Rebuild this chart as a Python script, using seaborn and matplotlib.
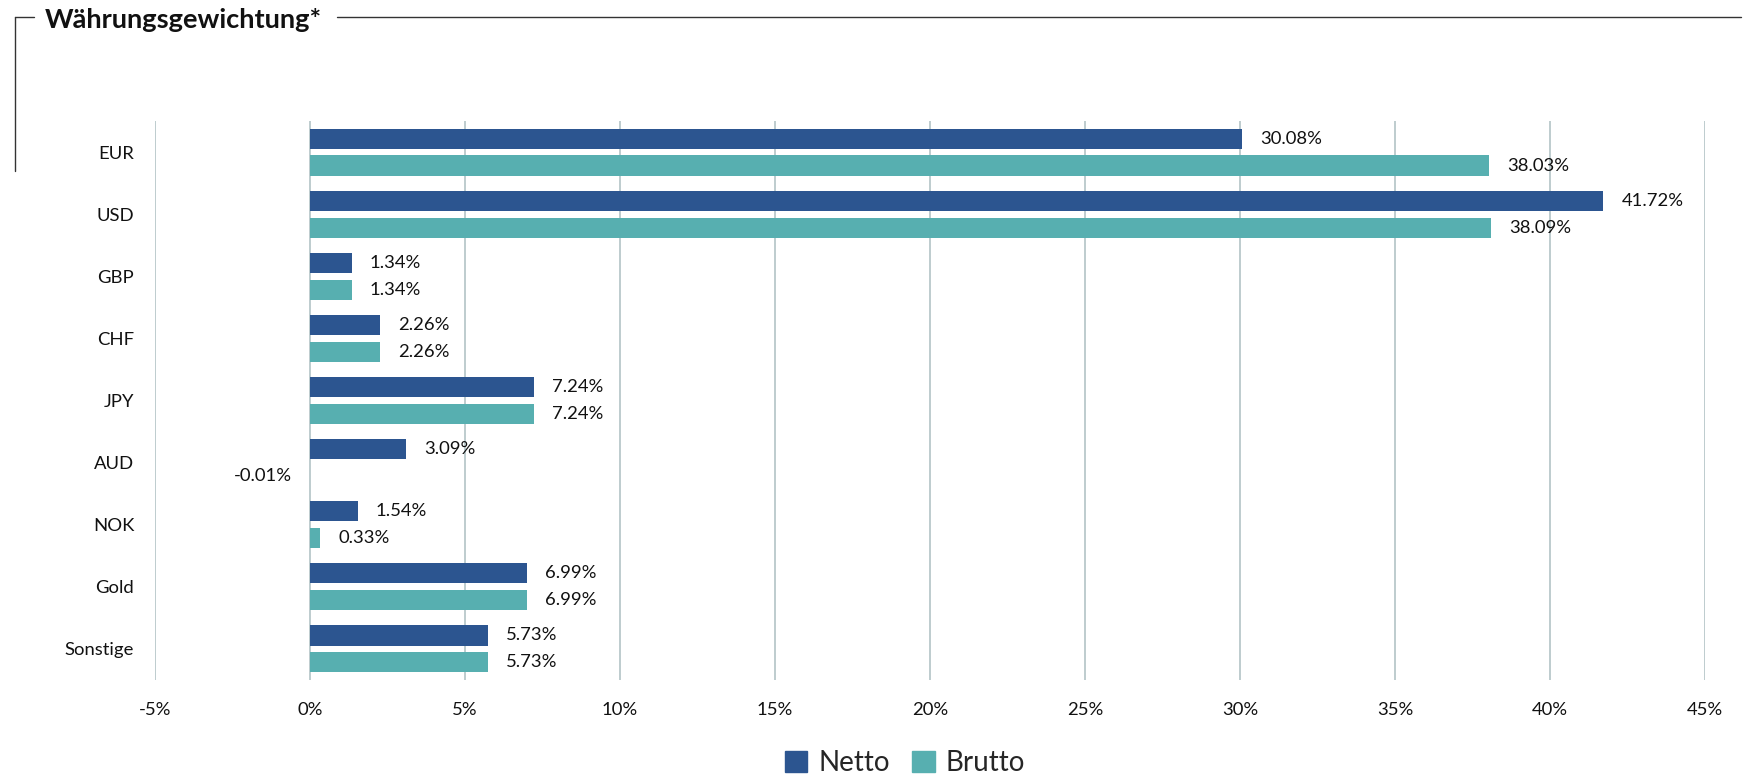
import matplotlib
matplotlib.use("Agg")
import matplotlib.pyplot as plt
from matplotlib.lines import Line2D
from matplotlib.ticker import FuncFormatter
import seaborn as sns
import pandas as pd

# Currency weights (percent of portfolio)
currencies = ["EUR", "USD", "GBP", "CHF", "JPY", "AUD", "NOK", "Gold", "Sonstige"]
netto = [30.08, 41.72, 1.34, 2.26, 7.24, 3.09, 1.54, 6.99, 5.73]
brutto = [38.03, 38.09, 1.34, 2.26, 7.24, -0.01, 0.33, 6.99, 5.73]
series_names = ["Netto", "Brutto"]
x_ticks = [-5, 0, 5, 10, 15, 20, 25, 30, 35, 40, 45]
title = "Währungsgewichtung*"

colors = {"Netto": "#2C5590", "Brutto": "#57AFB0"}
grid_color = "#B3C3C6"

df = pd.DataFrame({
    "Währung": currencies * 2,
    "Anteil": netto + brutto,
    "Serie": [series_names[0]] * len(currencies) + [series_names[1]] * len(currencies),
})

sns.set_theme(style="white")
plt.rcParams["font.family"] = ["Lato", "DejaVu Sans"]

fig = plt.figure(figsize=(17.61, 7.77), dpi=100)
ax = fig.add_axes([155 / 1761, 1 - 680 / 777, (1705 - 155) / 1761, (680 - 121) / 777])

sns.barplot(data=df, y="Währung", x="Anteil", hue="Serie", orient="h",
            palette=colors, width=0.866, gap=0.25, ax=ax, legend=False,
            saturation=1, edgecolor="none")

# value labels at the bar ends
for container, vals in zip(ax.containers, [netto, brutto]):
    ax.bar_label(container, labels=[f"{v:.2f}%" for v in vals], padding=13,
                 fontsize=13.3, color="#111111")

ax.set_xlim(x_ticks[0], x_ticks[-1])
ax.set_ylim(len(currencies) - 0.5, -0.5)
ax.set_xticks(x_ticks)
ax.xaxis.set_major_formatter(FuncFormatter(lambda v, p: f"{v:.0f}%"))
ax.set_xlabel("")
ax.set_ylabel("")
ax.grid(axis="x", color=grid_color, linewidth=1.2)
ax.grid(axis="y", visible=False)
ax.set_axisbelow(True)
for s in ax.spines.values():
    s.set_visible(False)
ax.tick_params(axis="y", length=0, pad=15, labelsize=13.3, labelcolor="#111111")
ax.tick_params(axis="x", length=0, pad=16, labelsize=13.3, labelcolor="#111111")

# framed title
fig.text(45 / 1761, 1 - 20 / 777, title, fontsize=19.6, fontweight="bold",
         va="center", ha="left", color="#111111")
line_kw = dict(color="#333333", linewidth=1.0, transform=fig.transFigure)
y_top = 1 - 17 / 777
fig.add_artist(Line2D([15 / 1761, 34 / 1761], [y_top, y_top], **line_kw))
fig.add_artist(Line2D([337 / 1761, 1741 / 1761], [y_top, y_top], **line_kw))
fig.add_artist(Line2D([15 / 1761, 15 / 1761], [y_top, 1 - 171 / 777], **line_kw))

# legend
handles = [plt.Rectangle((0, 0), 1, 1, color=colors[n]) for n in series_names]
fig.legend(handles, series_names, loc="center", bbox_to_anchor=(0.514, 0.018),
           ncol=2, frameon=False, fontsize=20, handlelength=0.8, handleheight=0.8,
           handletextpad=0.4, columnspacing=0.8)

fig.savefig("out.png", dpi=100)
